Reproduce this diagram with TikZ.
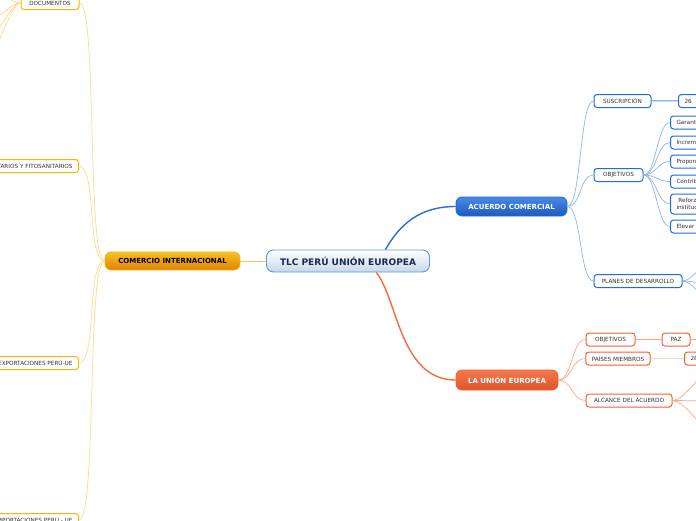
\documentclass[tikz,border=0pt]{standalone}
\usepackage{fontspec}
\setmainfont{DejaVu Sans}

\definecolor{rootEdge}{HTML}{5B9BD5}
\definecolor{rootShade}{HTML}{C6D7EA}
\definecolor{rootText}{HTML}{1B2A4E}
\definecolor{leafBlue}{HTML}{1E6BE0}
\definecolor{leafRed}{HTML}{F4602F}
\definecolor{leafGold}{HTML}{F7B500}
\definecolor{lineBlue}{HTML}{2A6BD6}
\definecolor{lineRed}{HTML}{F46A3C}
\definecolor{lineGold}{HTML}{F8C54A}
\definecolor{softBlue}{HTML}{8DB3F0}
\definecolor{softRed}{HTML}{FFA487}
\definecolor{softGold}{HTML}{FFD98C}

\begin{document}
\begin{tikzpicture}[
    x=1pt, y=-1pt,
    every node/.style={font=\fontsize{5.7}{6.8}\selectfont, text=black!80},
    leaf/.style={draw, rounded corners=3pt, line width=1pt, fill=white, minimum height=13pt, inner xsep=6pt, inner ysep=1pt},
    bleaf/.style={leaf, draw=leafBlue},
    rleaf/.style={leaf, draw=leafRed},
    gleaf/.style={leaf, draw=leafGold},
    hub/.style={rounded corners=6pt, line width=0.8pt, font=\fontsize{7}{8}\selectfont\bfseries, minimum height=19pt},
    root/.style={draw=rootEdge, rounded corners=7pt, line width=0.9pt, top color=white, bottom color=rootShade, font=\fontsize{9}{10}\selectfont\bfseries, text=rootText, minimum width=163pt, minimum height=22pt},
    bmain/.style={line width=1.4pt, draw=lineBlue},
    rmain/.style={line width=1.4pt, draw=lineRed},
    gmain/.style={line width=1pt, draw=lineGold},
    bsub/.style={line width=0.7pt, draw=softBlue},
    rsub/.style={line width=0.7pt, draw=softRed},
    gsub/.style={line width=0.7pt, draw=softGold}
]
\useasboundingbox (0,0) rectangle (696,520);
\clip (0,0) rectangle (696,520);

\node[root] (tlc) at (348,261) {TLC PERÚ UNIÓN EUROPEA};
\node[hub, draw=leafGold, top color=leafGold!85!white, bottom color=leafGold!80!red!90!black, text=black, minimum width=135pt, minimum height=18pt] (com) at (172.5,261) {COMERCIO INTERNACIONAL};
\node[hub, draw=leafBlue, top color=leafBlue!80!white, bottom color=leafBlue!85!black, text=white, minimum width=111pt] (acu) at (511.5,206.5) {ACUERDO COMERCIAL};
\node[hub, draw=leafRed, top color=leafRed!85!white, bottom color=leafRed!90!black, text=white, minimum width=102pt, minimum height=20pt] (ue) at (507,380) {LA UNIÓN EUROPEA};

\node[gleaf, minimum width=58pt] (doc) at (50,3) {DOCUMENTOS};
\node[gleaf, anchor=east] (fito) at (79,166) {MEDIDAS SANITARIOS Y FITOSANITARIOS};
\node[gleaf, anchor=east] (expo) at (79,363) {EXPORTACIONES PERÚ-UE};
\node[gleaf, anchor=east] (impo) at (79,520) {IMPORTACIONES PERÚ - UE};

\node[bleaf, minimum width=57pt] (sus) at (622.5,101) {SUSCRIPCIÓN};
\node[bleaf, anchor=west, minimum width=40pt, text width=28pt, align=left] (fecha) at (678,101) {26};
\node[bleaf, minimum width=49pt] (bobj) at (618.5,175) {OBJETIVOS};
\node[bleaf, anchor=west] (o1) at (670,122.5) {Garantizar};
\node[bleaf, anchor=west] (o2) at (670,142.5) {Incrementar};
\node[bleaf, anchor=west] (o3) at (670,161.5) {Proporcionar};
\node[bleaf, anchor=west] (o4) at (670,181.5) {Contribuir};
\node[bleaf, anchor=west, align=center, minimum height=20pt] (o5) at (670,204) {Reforzar el\\institucional};
\node[bleaf, anchor=west] (o6) at (670,226.5) {Elevar el};
\node[bleaf, minimum width=88pt] (plan) at (638,281) {PLANES DE DESARROLLO};

\node[rleaf, minimum width=49pt] (robj) at (610.5,339.5) {OBJETIVOS};
\node[rleaf, minimum width=28pt] (paz) at (676,339.5) {PAZ};
\node[rleaf, minimum width=64pt] (pais) at (618,358.5) {PAÍSES MIEMBROS};
\node[rleaf, anchor=west, minimum width=40pt, text width=28pt, align=left] (num) at (684,358.5) {28};
\node[rleaf, minimum width=86pt] (alc) at (629,400.5) {ALCANCE DEL ACUERDO};

\coordinate (d1) at (-12,-12);
\coordinate (d2) at (-12,22);
\coordinate (d3) at (-12,40);
\coordinate (d4) at (-12,58);
\coordinate (p1) at (712,262);
\coordinate (p2) at (712,284);
\coordinate (p3) at (712,300);
\coordinate (a1) at (708,374);
\coordinate (a2) at (708,401);
\coordinate (a3) at (708,426);
\coordinate (pz) at (705,339.5);

\draw[gmain] (tlc.west) -- (com.east);
\draw[bmain] (tlc.17) .. controls (400,224) and (420,206.5) .. (acu.west);
\draw[rmain] (tlc.-22) .. controls (398,300) and (400,380) .. (ue.west);

\foreach \n in {doc, fito, expo, impo}
  \draw[gsub] (com.west) .. controls +(-18,0) and +(18,0) .. (\n.east);
\foreach \n in {d1, d2, d3, d4}
  \draw[gsub] (doc.west) .. controls +(-10,0) and +(8,0) .. (\n);

\foreach \n in {sus, bobj, plan}
  \draw[bsub] (acu.east) .. controls +(14,0) and +(-14,0) .. (\n.west);
\draw[bsub, double=softBlue!50, double distance=0.5pt] (sus.east) -- (fecha.west);
\foreach \n in {o1, o2, o3, o4, o5, o6}
  \draw[bsub] (bobj.east) .. controls +(13,0) and +(-13,0) .. (\n.west);
\foreach \n in {p1, p2, p3}
  \draw[bsub] (plan.east) .. controls +(10,0) and +(-10,0) .. (\n);

\foreach \n in {robj, pais, alc}
  \draw[rsub] (ue.east) .. controls +(14,0) and +(-14,0) .. (\n.west);
\draw[rsub] (robj.east) -- (paz.west);
\draw[rsub] (paz.east) -- (pz);
\draw[rsub, double=softRed!50, double distance=0.5pt] (pais.east) -- (num.west);
\foreach \n in {a1, a2, a3}
  \draw[rsub] (alc.east) .. controls +(12,0) and +(-10,0) .. (\n);
\end{tikzpicture}
\end{document}
